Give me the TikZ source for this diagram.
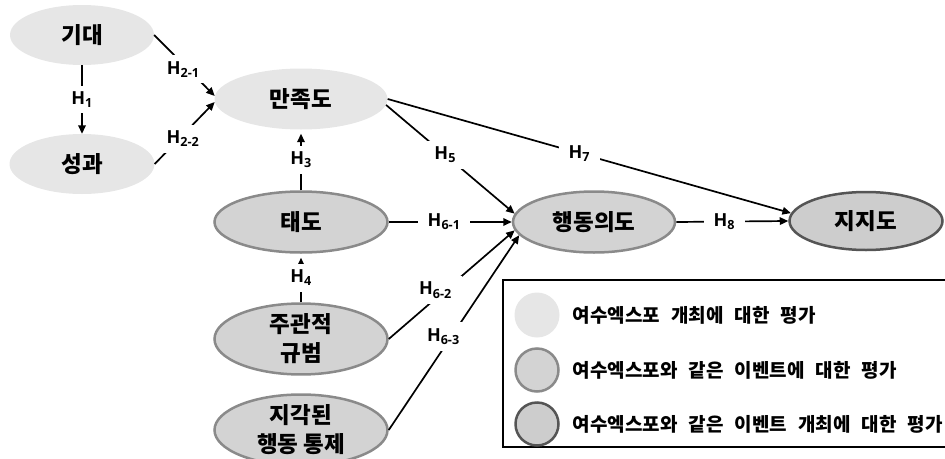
\documentclass[tikz,border=0pt]{standalone}
\usepackage{fontspec}
\usetikzlibrary{arrows.meta,positioning,shapes.geometric}
\newfontfamily\kr{Noto Sans CJK KR}
\newfontfamily\hf{Open Sans}
\newcommand\legfont{\kr\bfseries\fontsize{19}{22}\selectfont\spaceskip=11pt\relax}
\definecolor{expofill}{HTML}{E6E6E6}
\definecolor{eventfill}{HTML}{D3D3D3}
\definecolor{eventline}{HTML}{8A8A8A}
\definecolor{hostfill}{HTML}{CDCDCD}
\definecolor{hostline}{HTML}{555555}

\begin{document}
\begin{tikzpicture}[x=1pt, y=-1pt,
	var/.style={ellipse, inner sep=0pt, minimum width=173pt, minimum height=61pt, align=center, font=\kr\bfseries\fontsize{22.5}{29}\selectfont},
	expo/.style={var, fill=expofill},
	event/.style={var, fill=eventfill, draw=eventline, line width=2.5pt},
	host/.style={var, fill=hostfill, draw=hostline, line width=2.5pt},
	hl/.style={fill=white, inner xsep=10pt, inner ysep=6pt, font=\hf\bfseries\fontsize{18}{18}\selectfont},
	link/.style={line width=1.7pt, -{Triangle[length=8.5pt, width=7.5pt]}},
	legdot/.style={circle, inner sep=0pt, minimum size=45pt},
	legtext/.style={inner sep=0pt, font=\legfont}]
	\useasboundingbox (0,0) rectangle (945,458);
	\clip (0,0) rectangle (945,458);

	% constructs
	\node[expo, minimum width=144pt, minimum height=60pt] (exp) at (82,35) {기대};
	\node[expo, minimum width=145pt, minimum height=60pt] (perf) at (82,164) {성과};
	\node[expo] (sat) at (301,99) {만족도};
	\node[event] (att) at (301,222) {태도};
	\node[event] (norm) at (301,339) {주관적\\규범};
	\node[event] (pbc) at (301,430) {지각된\\행동 통제};
	\node[event, minimum width=162pt] (int) at (594,222) {행동의도};
	\node[host, minimum width=153pt, minimum height=58pt] (sup) at (866,221) {지지도};

	% hypotheses
	\draw[link] (exp.south) -- node[hl] {H\textsubscript{1}} (perf.north);
	\draw[link] (exp.east) -- node[hl, pos=0.48, yshift=-5pt] {H\textsubscript{2-1}} (sat.178);
	\draw[link] (perf.east) -- node[hl, pos=0.47, yshift=-4pt] {H\textsubscript{2-2}} (sat.182);
	\draw[link, shorten >=4pt] (att.north) -- node[hl] {H\textsubscript{3}} (sat.south);
	\draw[link, shorten >=4pt] (norm.north) -- node[hl] {H\textsubscript{4}} (att.south);
	\draw[link] (sat.-4) -- node[hl, pos=0.46] {H\textsubscript{5}} (int.174);
	\draw[link] (att.east) -- node[hl, pos=0.45] {H\textsubscript{6-1}} (int.west);
	\draw[link] (norm.east) -- node[hl, pos=0.45, xshift=-10pt] {H\textsubscript{6-2}} (int.186);
	\draw[link] (pbc.east) -- node[hl, pos=0.48, xshift=-8pt] {H\textsubscript{6-3}} (int.190);
	\draw[link] (sat.east) -- node[hl, pos=0.475] {H\textsubscript{7}} (sup.174);
	\draw[link] (int.east) -- node[hl, pos=0.43] {H\textsubscript{8}} (sup.west);

	% legend
	\draw[line width=2.5pt] (503,280) rectangle (960,447);
	\node[legdot, fill=expofill] (k1) at (537,315) {};
	\node[legdot, fill=eventfill, draw=eventline, line width=2.5pt, minimum size=43pt] (k2) at (537,370) {};
	\node[legdot, fill=hostfill, draw=hostline, line width=2.5pt, minimum size=43pt] (k3) at (537,424) {};
	\node[legtext, right=13pt of k1] (t1) {여수엑스포 개최에 대한 평가};
	\node[legtext, right=13pt of k2] (t2) {여수엑스포와 같은 이벤트에 대한 평가};
	\node[legtext, right=13pt of k3] (t3) {여수엑스포와 같은 이벤트 개최에 대한 평가};
\end{tikzpicture}
\end{document}
